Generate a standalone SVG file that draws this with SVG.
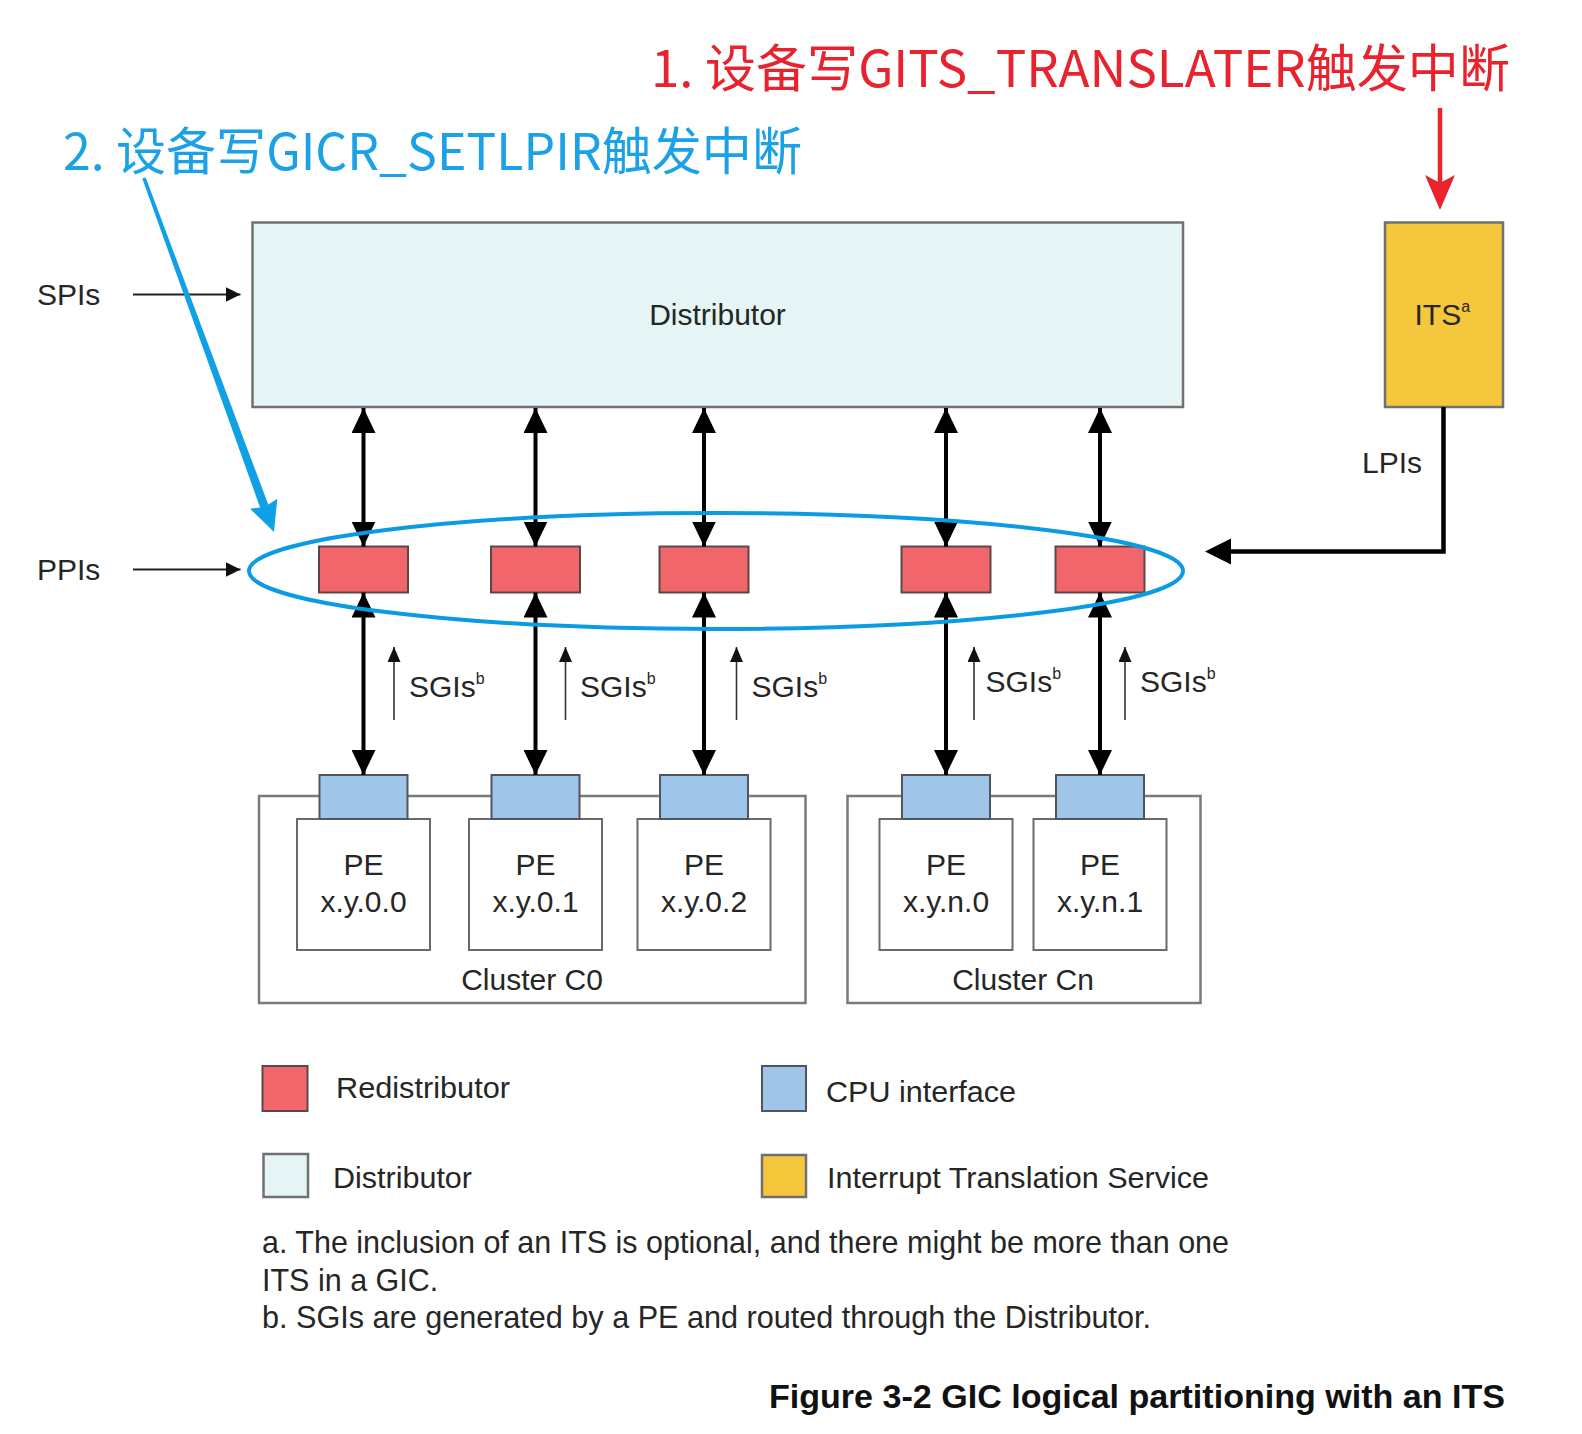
<svg xmlns="http://www.w3.org/2000/svg" width="1582" height="1434" viewBox="0 0 1582 1434">
  <defs>
    <style>
      .lbl { font-family: "Liberation Sans", Arial, sans-serif; font-size: 30px; fill: #262626; }
      .fn { font-size: 30.5px; }
      .mid { text-anchor: middle; }
      .sup { font-size: 16px; }
      .cap { font-family: "Liberation Sans", Arial, sans-serif; font-size: 34px; font-weight: bold; fill: #111; }
      .cn { font-family: "Noto Sans CJK SC", "Noto Sans", sans-serif; font-size: 51px; }
      .redist { fill: #f0666a; stroke: #5a4848; stroke-width: 2; }
      .cpu { fill: #9fc5e8; stroke: #4f5660; stroke-width: 2; }
      .dist { fill: #e5f5f5; stroke: #707070; stroke-width: 2.5; }
      .its { fill: #f5c73d; stroke: #707070; stroke-width: 2.5; }
      .pe { fill: #ffffff; stroke: #6a6a6a; stroke-width: 2; }
      .cluster { fill: #ffffff; stroke: #7a7a7a; stroke-width: 2.5; }
      .bi { stroke: #000; stroke-width: 4; fill: none; marker-start: url(#ah); marker-end: url(#ah); }
      .thin { stroke: #222; stroke-width: 2; fill: none; marker-end: url(#ahs); }
      .sgi { stroke: #333; stroke-width: 1.6; fill: none; marker-end: url(#ahsg); }
    </style>
    <marker id="ah" viewBox="0 0 25 24" refX="25" refY="12" markerWidth="25" markerHeight="24" markerUnits="userSpaceOnUse" orient="auto-start-reverse">
      <path d="M0,0 L25,12 L0,24 z" fill="#000"/>
    </marker>
    <marker id="ahs" viewBox="0 0 15 15" refX="15" refY="7.5" markerWidth="15" markerHeight="15" markerUnits="userSpaceOnUse" orient="auto">
      <path d="M0,0 L15,7.5 L0,15 z" fill="#111"/>
    </marker>
    <marker id="ahsg" viewBox="0 0 15 13" refX="15" refY="6.5" markerWidth="15" markerHeight="13" markerUnits="userSpaceOnUse" orient="auto">
      <path d="M0,0 L15,6.5 L0,13 z" fill="#111"/>
    </marker>
  </defs>

  <rect x="0" y="0" width="1582" height="1434" fill="#ffffff"/>

  <!-- Clusters -->
  <g id="cluster-c0">
    <rect class="cluster" x="259" y="796" width="546.5" height="207"/>
    <text class="lbl mid" x="532" y="990">Cluster C0</text>
  </g>
  <g id="cluster-cn">
    <rect class="cluster" x="847.5" y="796" width="353" height="207"/>
    <text class="lbl mid" x="1023" y="990">Cluster Cn</text>
  </g>

  <!-- PEs -->
  <g id="pe-0-0">
    <rect class="pe" x="297" y="819" width="133" height="131"/>
    <text class="lbl mid" x="363.5" y="875">PE</text>
    <text class="lbl mid" x="363.5" y="912">x.y.0.0</text>
  </g>
  <g id="pe-0-1">
    <rect class="pe" x="469" y="819" width="133" height="131"/>
    <text class="lbl mid" x="535.5" y="875">PE</text>
    <text class="lbl mid" x="535.5" y="912">x.y.0.1</text>
  </g>
  <g id="pe-0-2">
    <rect class="pe" x="637.5" y="819" width="133" height="131"/>
    <text class="lbl mid" x="704" y="875">PE</text>
    <text class="lbl mid" x="704" y="912">x.y.0.2</text>
  </g>
  <g id="pe-n-0">
    <rect class="pe" x="879.5" y="819" width="133" height="131"/>
    <text class="lbl mid" x="946" y="875">PE</text>
    <text class="lbl mid" x="946" y="912">x.y.n.0</text>
  </g>
  <g id="pe-n-1">
    <rect class="pe" x="1033.5" y="819" width="133" height="131"/>
    <text class="lbl mid" x="1100" y="875">PE</text>
    <text class="lbl mid" x="1100" y="912">x.y.n.1</text>
  </g>

  <!-- CPU interfaces -->
  <g id="cpu-1"><rect class="cpu" x="319.5" y="775" width="88" height="44"/></g>
  <g id="cpu-2"><rect class="cpu" x="491.5" y="775" width="88" height="44"/></g>
  <g id="cpu-3"><rect class="cpu" x="660" y="775" width="88" height="44"/></g>
  <g id="cpu-4"><rect class="cpu" x="902" y="775" width="88" height="44"/></g>
  <g id="cpu-5"><rect class="cpu" x="1056" y="775" width="88" height="44"/></g>

  <!-- Distributor -->
  <g id="distributor">
    <rect class="dist" x="252.5" y="222.5" width="930.5" height="184.5"/>
    <text class="lbl mid" x="717.5" y="325">Distributor</text>
  </g>

  <!-- ITS -->
  <g id="its">
    <rect class="its" x="1385" y="222.5" width="118" height="184.5"/>
    <text class="lbl" x="1414.5" y="325">ITS<tspan class="sup" dy="-13">a</tspan></text>
  </g>

  <!-- Redistributors -->
  <g id="redist-1"><rect class="redist" x="319" y="546.5" width="89" height="46"/></g>
  <g id="redist-2"><rect class="redist" x="491" y="546.5" width="89" height="46"/></g>
  <g id="redist-3"><rect class="redist" x="659.5" y="546.5" width="89" height="46"/></g>
  <g id="redist-4"><rect class="redist" x="901.5" y="546.5" width="89" height="46"/></g>
  <g id="redist-5"><rect class="redist" x="1055.5" y="546.5" width="89" height="46"/></g>

  <!-- Connectors -->
  <g id="connectors">
    <line class="bi" x1="363.5" y1="408" x2="363.5" y2="546.5"/>
    <line class="bi" x1="535.5" y1="408" x2="535.5" y2="546.5"/>
    <line class="bi" x1="704" y1="408" x2="704" y2="546.5"/>
    <line class="bi" x1="946" y1="408" x2="946" y2="546.5"/>
    <line class="bi" x1="1100" y1="408" x2="1100" y2="546.5"/>

    <line class="bi" x1="363.5" y1="592.5" x2="363.5" y2="775"/>
    <line class="bi" x1="535.5" y1="592.5" x2="535.5" y2="775"/>
    <line class="bi" x1="704" y1="592.5" x2="704" y2="775"/>
    <line class="bi" x1="946" y1="592.5" x2="946" y2="775"/>
    <line class="bi" x1="1100" y1="592.5" x2="1100" y2="775"/>

    <line class="thin" x1="133" y1="294.5" x2="240.5" y2="294.5"/>
    <line class="thin" x1="133" y1="569.5" x2="240.5" y2="569.5"/>

    <line class="sgi" x1="394" y1="720" x2="394" y2="647"/>
    <line class="sgi" x1="565.5" y1="720" x2="565.5" y2="647"/>
    <line class="sgi" x1="736.5" y1="720" x2="736.5" y2="647"/>
    <line class="sgi" x1="974" y1="720" x2="974" y2="647"/>
    <line class="sgi" x1="1125" y1="720" x2="1125" y2="647"/>

    <path d="M1443.5,407 L1443.5,551.5 L1225,551.5" stroke="#000" stroke-width="4.5" fill="none" stroke-linejoin="miter"/>
    <path d="M1205,551.5 L1231,538.5 L1231,564.5 z" fill="#000"/>
  </g>

  <!-- Labels -->
  <g id="labels">
    <text class="lbl" x="37" y="305">SPIs</text>
    <text class="lbl" x="37" y="580">PPIs</text>
    <text class="lbl" x="1362" y="473">LPIs</text>
    <text class="lbl" x="409" y="697">SGIs<tspan class="sup" dy="-13">b</tspan></text>
    <text class="lbl" x="580" y="697">SGIs<tspan class="sup" dy="-13">b</tspan></text>
    <text class="lbl" x="751.5" y="697">SGIs<tspan class="sup" dy="-13">b</tspan></text>
    <text class="lbl" x="985.5" y="692">SGIs<tspan class="sup" dy="-13">b</tspan></text>
    <text class="lbl" x="1140" y="692">SGIs<tspan class="sup" dy="-13">b</tspan></text>
  </g>

  <!-- Legend -->
  <g id="legend">
    <rect class="redist" x="262.5" y="1066" width="45" height="45"/>
    <text class="lbl" x="336" y="1098" textLength="174" lengthAdjust="spacingAndGlyphs">Redistributor</text>
    <rect class="cpu" x="762" y="1066" width="44" height="45"/>
    <text class="lbl" x="826" y="1102" textLength="190" lengthAdjust="spacingAndGlyphs">CPU interface</text>
    <rect class="dist" x="263.5" y="1154" width="44.5" height="43"/>
    <text class="lbl" x="333" y="1188" textLength="139" lengthAdjust="spacingAndGlyphs">Distributor</text>
    <rect class="its" x="762" y="1155" width="44" height="42"/>
    <text class="lbl" x="827" y="1188" textLength="382" lengthAdjust="spacingAndGlyphs">Interrupt Translation Service</text>
  </g>

  <!-- Footnotes -->
  <g id="footnotes">
    <text class="lbl fn" x="262" y="1253" textLength="967" lengthAdjust="spacingAndGlyphs">a. The inclusion of an ITS is optional, and there might be more than one</text>
    <text class="lbl fn" x="262" y="1290.5">ITS in a GIC.</text>
    <text class="lbl fn" x="262" y="1328" textLength="889" lengthAdjust="spacingAndGlyphs">b. SGIs are generated by a PE and routed through the Distributor.</text>
  </g>

  <g id="caption">
    <text class="cap" x="769" y="1408" textLength="736" lengthAdjust="spacingAndGlyphs">Figure 3-2 GIC logical partitioning with an ITS</text>
  </g>

  <!-- Annotations -->
  <g id="annotation-ellipse">
    <ellipse cx="716" cy="571" rx="467" ry="58" fill="none" stroke="#0a9be2" stroke-width="4"/>
  </g>
  <g id="annotation-1">
    <text class="cn" x="651" y="87" fill="#e8232d" textLength="859" lengthAdjust="spacingAndGlyphs">1. 设备写GITS_TRANSLATER触发中断</text>
    <line x1="1440" y1="108" x2="1440" y2="185" stroke="#e8232d" stroke-width="4.5"/>
    <path d="M1440,210 L1425,175 L1440,183 L1455,175 z" fill="#e8232d"/>
  </g>
  <g id="annotation-2">
    <text class="cn" x="63" y="170" fill="#1ba1e6" textLength="739" lengthAdjust="spacingAndGlyphs">2. 设备写GICR_SETLPIR触发中断</text>
    <path d="M142.3,178.6 L145.7,177.4 L270.2,509.8 L262.0,512.8 z" fill="#0fa0e6"/>
    <path d="M274,532 L250.1,508.8 L264.5,507 L277.3,498.8 z" fill="#0fa0e6"/>
  </g>
</svg>
